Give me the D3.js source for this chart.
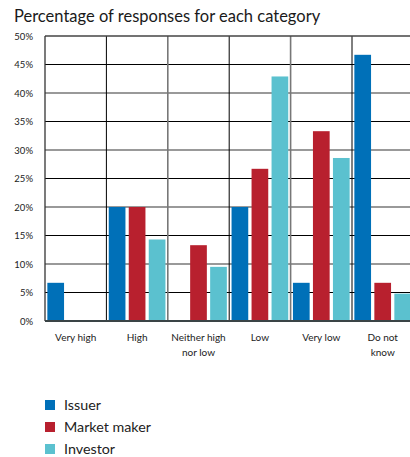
<!DOCTYPE html>
<html><head><meta charset="utf-8">
<script src="https://cdn.jsdelivr.net/npm/d3@7"></script>
<style>body{margin:0;background:#fff;} svg{display:block;}</style>
</head><body>
<script>
const categories = [["Very high"],["High"],["Neither high","nor low"],["Low"],["Very low"],["Do not","know"]];
const seriesNames = ["Issuer","Market maker","Investor"];
const issuer = [6.7, 20, 0, 20, 6.7, 46.7];
const marketMaker = [0, 20, 13.3, 26.7, 33.3, 6.7];
const investor = [0, 14.3, 9.5, 42.9, 28.6, 4.8];
const tickValues = [0,5,10,15,20,25,30,35,40,45,50];
const colors = ["#0070b8","#b8202e","#5bc1cf"];
const seriesValues = [issuer, marketMaker, investor];

const W = 410, H = 457;
const mLeft = 45, mRight = 413.4, mTop = 36, mBottom = 321;
const svg = d3.select("body").append("svg").attr("width", W).attr("height", H);
const font = "Lato, 'Open Sans', sans-serif";

svg.append("text").attr("x", 14).attr("y", 22).attr("font-family", font)
  .attr("font-size", 16.5).attr("fill", "#1a1a1a").text("Percentage of responses for each category");

const catIdx = categories.map((d,i)=>i);
const x0 = d3.scaleBand().domain(catIdx).range([mLeft, mRight]).padding(0);
const x1 = d3.scaleBand().domain(seriesNames).range([0, x0.bandwidth()]).paddingInner(0.165).paddingOuter(0.1175);
const y = d3.scaleLinear().domain([0, 50]).range([mBottom, mTop]);

// horizontal gridlines
tickValues.filter(t => t > 0 && t < 50).forEach(t => {
  const major = t % 10 === 0;
  svg.append("line").attr("x1", mLeft).attr("x2", mRight).attr("y1", y(t)).attr("y2", y(t))
    .attr("stroke", major ? "#777" : "#000").attr("stroke-width", major ? 1.6 : 1);
});
// vertical category separators
catIdx.slice(1).forEach(i => {
  const xx = x0(i);
  const odd = i % 2 === 1;
  svg.append("line").attr("x1", xx).attr("x2", xx).attr("y1", mTop).attr("y2", mBottom)
    .attr("stroke", odd ? "#000" : "#777").attr("stroke-width", odd ? 1 : 1.6);
});

// bars
seriesValues.forEach((vals, s) => {
  svg.append("g").selectAll("rect").data(vals).join("rect")
    .attr("x", (d,i) => x0(i) + x1(seriesNames[s]))
    .attr("width", x1.bandwidth())
    .attr("y", d => y(d))
    .attr("height", d => mBottom - y(d))
    .attr("fill", colors[s]);
});

// frame
svg.append("line").attr("x1", mLeft).attr("x2", mRight).attr("y1", mTop).attr("y2", mTop)
  .attr("stroke", "#444").attr("stroke-width", 1.6);
svg.append("line").attr("x1", mLeft).attr("x2", mLeft).attr("y1", mTop).attr("y2", mBottom)
  .attr("stroke", "#333").attr("stroke-width", 1.3);

// y axis
const yAxis = d3.axisLeft(y).tickValues(tickValues).tickFormat(d => d + "%").tickSize(0).tickPadding(12);
const ya = svg.append("g").attr("transform", `translate(${mLeft},0)`).call(yAxis);
ya.select(".domain").remove();
ya.selectAll("text").attr("font-family", font).attr("font-size", 9.5).attr("fill", "#222");

// x axis
svg.append("line").attr("x1", mLeft).attr("x2", mRight).attr("y1", mBottom).attr("y2", mBottom)
  .attr("stroke", "#3a4446").attr("stroke-width", 2);
const xg = svg.append("g");
categories.forEach((lines, i) => {
  const cx = x0(i) + x0.bandwidth()/2;
  const t = xg.append("text").attr("x", cx).attr("y", 341)
    .attr("text-anchor", "middle").attr("font-family", font).attr("font-size", 10).attr("fill", "#222");
  lines.forEach((l, k) => t.append("tspan").attr("x", cx).attr("dy", k === 0 ? 0 : 15).text(l));
});

// legend
seriesNames.forEach((n, s) => {
  const ly = 400 + s * 22;
  svg.append("rect").attr("x", 45).attr("y", ly).attr("width", 10).attr("height", 10).attr("fill", colors[s]);
  svg.append("text").attr("x", 64).attr("y", ly + 10).attr("font-family", font).attr("font-size", 14.3)
    .attr("fill", "#222").text(n);
});
</script>
</body></html>
